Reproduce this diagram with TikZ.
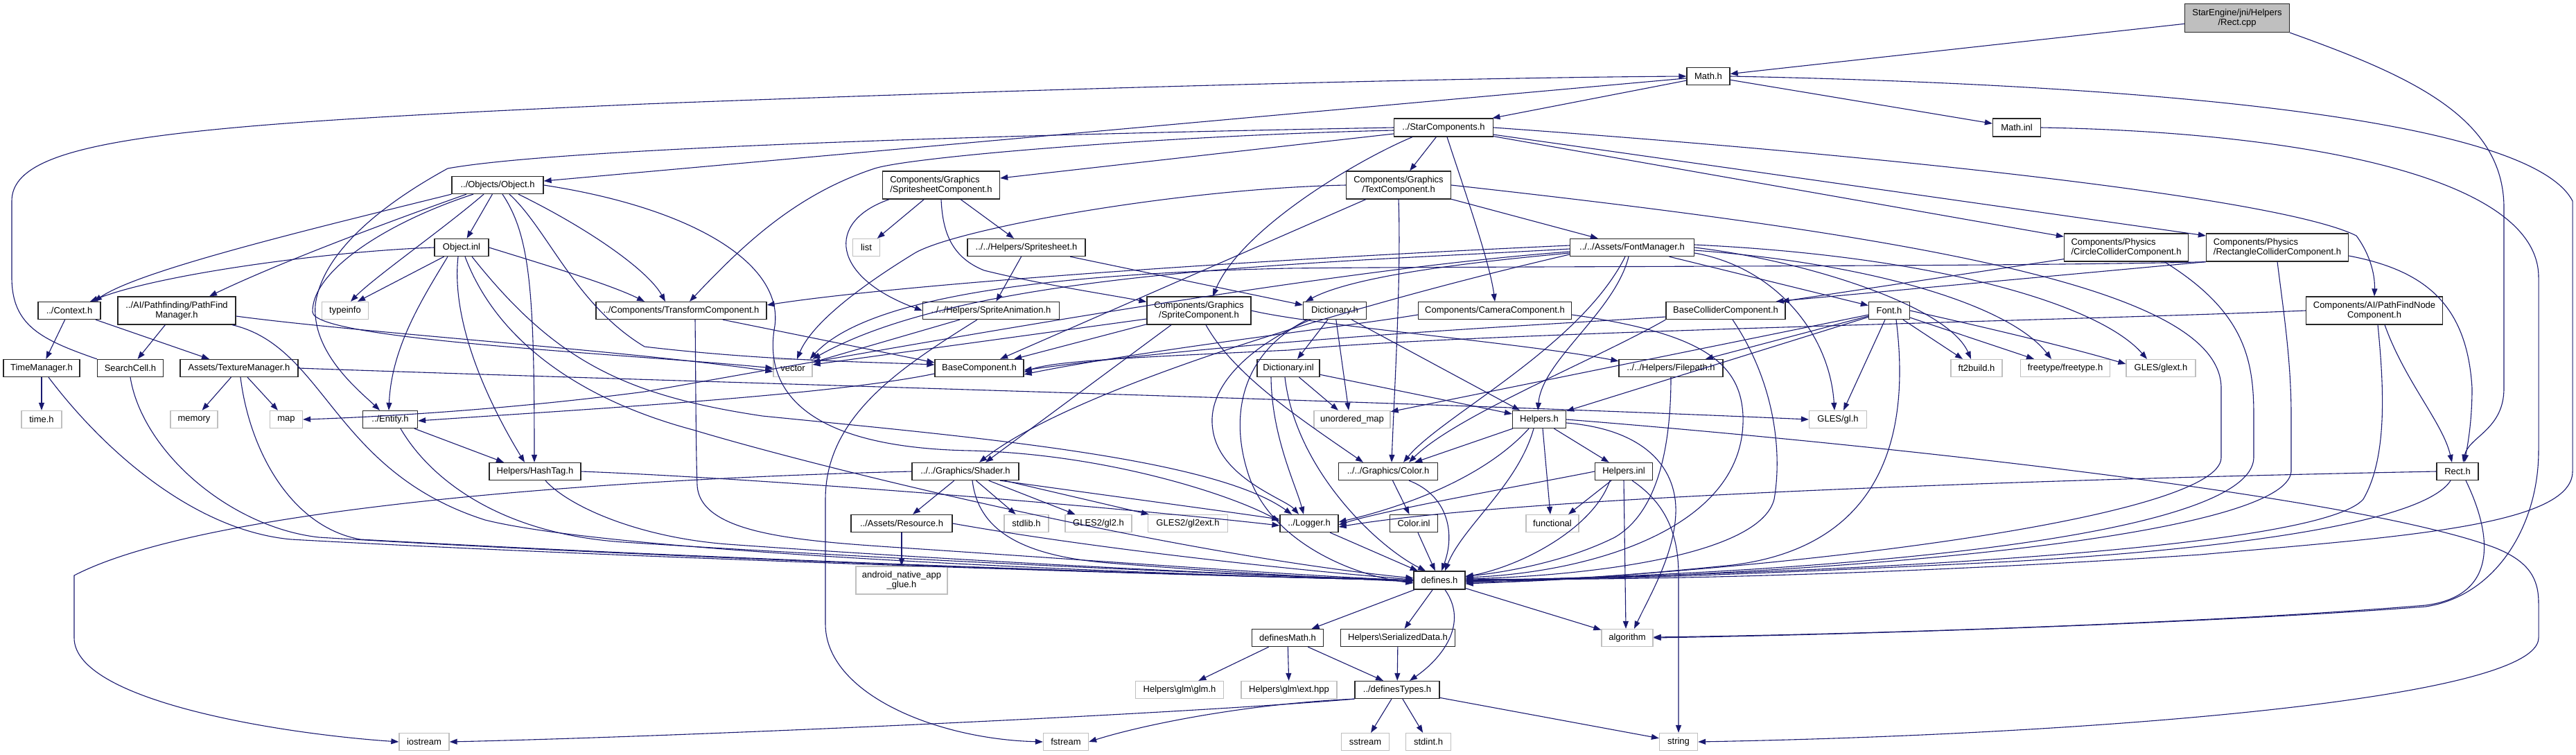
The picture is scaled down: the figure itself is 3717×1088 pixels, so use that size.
\documentclass[tikz,border=0pt]{standalone}
\usepackage{fontspec}
\setmainfont{Liberation Sans}
\usetikzlibrary{arrows.meta}
\definecolor{edgec}{RGB}{25,25,112}
\definecolor{extb}{RGB}{191,191,191}
\definecolor{rootf}{RGB}{191,191,191}
\tikzset{
  box/.style={draw=black!85, fill=white, line width=1.3pt, inner sep=0pt, align=center,
    font=\fontsize{13}{14.5}\selectfont},
  boxl/.style={box, align=left},
  ext/.style={box, draw=extb},
  root/.style={box, fill=rootf},
  edg/.style={draw=edgec, line width=1.1pt, -{Triangle[length=11pt,width=8pt]}}
}
\newcommand{\mkbox}[6]{\node[#1, minimum width=#4pt, minimum height=#5pt] (#2) at (#3) {#6};}
\begin{document}
\begin{tikzpicture}[x=1pt,y=-1pt]
\fill[white] (0,0) rectangle (3717,1088);
\useasboundingbox (0,0) rectangle (3717,1088);
% ---------------- nodes
\mkbox{root}{rcpp}{3228,26}{151}{41}{StarEngine/jni/Helpers\\/Rect.cpp}
\mkbox{box}{mathh}{2465,110}{62}{25}{Math.h}
\mkbox{box}{starc}{2083,184}{143}{26}{../StarComponents.h}
\mkbox{box}{mathinl}{2910,184}{69}{26}{Math.inl}
\mkbox{box}{objh}{718,267}{132}{25}{../Objects/Object.h}
\mkbox{boxl}{sscomp}{1358,267}{169}{40}{Components/Graphics\\/SpritesheetComponent.h}
\mkbox{box}{textc}{2018,267}{151}{40}{Components/Graphics\\/TextComponent.h}
\mkbox{boxl}{circ}{3068,357}{179}{40}{Components/Physics\\/CircleColliderComponent.h}
\mkbox{boxl}{rectc}{3286,357}{205}{40}{Components/Physics\\/RectangleColliderComponent.h}
\mkbox{box}{objinl}{666,357}{78}{25}{Object.inl}
\mkbox{ext}{nlist}{1250,357}{39}{25}{list}
\mkbox{box}{ssheet}{1481,357}{170}{25}{../../Helpers/Spritesheet.h}
\mkbox{box}{fontm}{2355,357}{179}{25}{../../Assets/FontManager.h}
\mkbox{box}{ctx}{100,448}{90}{25}{../Context.h}
\mkbox{box}{pfm}{255,448}{170}{40}{../AI/Pathfinding/PathFind\\Manager.h}
\mkbox{ext}{typeinfo}{498,448}{67}{25}{typeinfo}
\mkbox{box}{transf}{983,448}{246}{25}{../Components/TransformComponent.h}
\mkbox{box}{spranim}{1430,448}{197}{25}{../../Helpers/SpriteAnimation.h}
\mkbox{box}{sprc}{1730,448}{150}{40}{Components/Graphics\\/SpriteComponent.h}
\mkbox{box}{dict}{1926,448}{91}{25}{Dictionary.h}
\mkbox{box}{camc}{2157,448}{221}{25}{Components/CameraComponent.h}
\mkbox{box}{basecol}{2490,448}{172}{25}{BaseColliderComponent.h}
\mkbox{box}{nfont}{2726,448}{59}{25}{Font.h}
\mkbox{box}{pfnode}{3426,448}{197}{40}{Components/AI/PathFindNode\\Component.h}
\mkbox{box}{timem}{60,531}{110}{25}{TimeManager.h}
\mkbox{box}{scell}{188,531}{95}{25}{SearchCell.h}
\mkbox{box}{texm}{345,531}{170}{25}{Assets/TextureManager.h}
\mkbox{ext}{nvector}{1144,531}{56}{25}{vector}
\mkbox{box}{basec}{1413,531}{128}{25}{BaseComponent.h}
\mkbox{box}{dictinl}{1859,531}{90}{25}{Dictionary.inl}
\mkbox{box}{filep}{2411,531}{150}{25}{../../Helpers/Filepath.h}
\mkbox{ext}{ft2}{2852,531}{74}{25}{ft2build.h}
\mkbox{ext}{freet}{2980,531}{129}{25}{freetype/freetype.h}
\mkbox{ext}{glext}{3118,531}{100}{25}{GLES/glext.h}
\mkbox{ext}{timeh}{60,605}{58}{25}{time.h}
\mkbox{ext}{memory}{280,605}{68}{25}{memory}
\mkbox{ext}{nmap}{413,605}{47}{25}{map}
\mkbox{box}{entity}{563,605}{79}{25}{../Entity.h}
\mkbox{ext}{umap}{1951,605}{110}{25}{unordered\_map}
\mkbox{box}{helpers}{2221,605}{77}{25}{Helpers.h}
\mkbox{ext}{gl}{2652,605}{83}{25}{GLES/gl.h}
\mkbox{box}{hashtag}{772,680}{132}{25}{Helpers/HashTag.h}
\mkbox{box}{shader}{1393,680}{154}{25}{../../Graphics/Shader.h}
\mkbox{box}{ncolor}{2003,680}{143}{25}{../../Graphics/Color.h}
\mkbox{box}{helpinl}{2343,680}{83}{25}{Helpers.inl}
\mkbox{box}{recth}{3546,680}{60}{25}{Rect.h}
\mkbox{box}{resource}{1301,755}{146}{25}{../Assets/Resource.h}
\mkbox{ext}{stdlib}{1481,755}{64}{25}{stdlib.h}
\mkbox{ext}{gltwo}{1585,755}{96}{25}{GLES2/gl2.h}
\mkbox{ext}{gltwoext}{1714,755}{115}{25}{GLES2/gl2ext.h}
\mkbox{box}{logger}{1889,755}{84}{25}{../Logger.h}
\mkbox{box}{colorinl}{2040,755}{69}{25}{Color.inl}
\mkbox{ext}{functional}{2240,755}{76}{25}{functional}
\mkbox{ext}{android}{1301,837}{132}{40}{android\_native\_app\\\_glue.h}
\mkbox{box}{defines}{2077,837}{74}{26}{defines.h}
\mkbox{box}{dmath}{1858,920}{103}{25}{definesMath.h}
\mkbox{box}{serial}{2017,920}{165}{25}{Helpers\textbackslash{}SerializedData.h}
\mkbox{ext}{algo}{2348,920}{74}{25}{algorithm}
\mkbox{ext}{glm}{1702,995}{127}{25}{Helpers\textbackslash{}glm\textbackslash{}glm.h}
\mkbox{ext}{glmext}{1860,995}{138}{25}{Helpers\textbackslash{}glm\textbackslash{}ext.hpp}
\mkbox{box}{dtypes}{2016,995}{122}{25}{../definesTypes.h}
\mkbox{ext}{fstream}{1538,1070}{65}{25}{fstream}
\mkbox{ext}{iostream}{612,1070}{72}{25}{iostream}
\mkbox{ext}{sstream}{1970,1070}{69}{25}{sstream}
\mkbox{ext}{stdint}{2061,1070}{65}{25}{stdint.h}
\mkbox{ext}{nstring}{2422,1070}{55}{25}{string}
% ---------------- edges
% Rect.cpp
\draw[edg] (rcpp) -- (mathh);
\draw[edg] (rcpp.south east) .. controls (3480,110) and (3613,170) .. (3613,300) -- (3613,560) .. controls (3613,620) and (3562,630) .. ([xshift=8pt]recth.north);
% Math.h
\draw[edg] (mathh) -- (starc);
\draw[edg] (mathh) -- (mathinl);
\draw[edg] (mathh) -- (objh);
\draw[edg] (mathh.east) .. controls (2900,118) and (3640,150) .. (3712,290) -- (3712,680) .. controls (3712,760) and (3450,775) .. (3175,800) .. controls (2800,825) and (2400,838) .. ([yshift=2pt]defines.east);
\draw[edg] (scell.north west) .. controls (60,490) and (17,470) .. (17,400) -- (17,290) .. controls (17,200) and (250,180) .. (930,150) .. controls (1500,128) and (2100,112) .. (mathh.west);
\draw[edg] (mathinl.east) .. controls (3300,190) and (3663,250) .. (3663,400) -- (3663,650) .. controls (3663,760) and (3600,860) .. (3500,875) .. controls (3200,898) and (2700,915) .. (algo.east);
\draw[edg] (helpers.east) .. controls (2700,640) and (3400,715) .. (3600,790) .. controls (3650,810) and (3663,835) .. (3663,870) -- (3663,920) .. controls (3663,1010) and (3000,1060) .. (nstring.east);
% StarComponents
\draw[edg] (starc.west) .. controls (1400,195) and (800,215) .. (646,243) .. controls (560,290) and (465,360) .. (455,440) .. controls (450,510) and (520,565) .. ([xshift=-15pt]entity.north);
\draw[edg] ([yshift=-4pt]starc.west) .. controls (1700,195) and (1320,225) .. (1262,243) .. controls (1150,280) and (1075,350) .. ([xshift=12pt]transf.north);
\draw[edg] ([yshift=-9pt]starc.west) -- ([yshift=10pt]sscomp.east);
\draw[edg] (starc) -- (textc);
\draw[edg] ([xshift=-45pt]starc.south) .. controls (1960,230) and (1790,330) .. ([xshift=20pt]sprc.north);
\draw[edg] ([xshift=5pt]starc.south) .. controls (2115,280) and (2150,380) .. (camc.north);
\draw[edg] (starc.east) .. controls (2800,230) and (3300,290) .. (3400,340) .. controls (3422,370) and (3427,400) .. (pfnode.north);
\draw[edg] (starc) -- ([yshift=17pt]rectc.west);
\draw[edg] (starc) -- (circ);
% Object.h
\draw[edg] (objh) -- (objinl);
\draw[edg] (objh.south west) .. controls (450,330) and (200,390) .. ([xshift=36pt]ctx.north);
\draw[edg] ([xshift=-45pt]objh.south) .. controls (560,320) and (400,380) .. ([xshift=47pt]pfm.north);
\draw[edg] ([xshift=-20pt]objh.south) .. controls (640,330) and (540,400) .. ([xshift=8pt]typeinfo.north);
\draw[edg] ([xshift=-35pt]objh.south) .. controls (560,320) and (450,390) .. (451,450) .. controls (452,490) and (900,510) .. (nvector.west);
\draw[edg] ([xshift=7pt]objh.south) .. controls (765,340) and (771,420) .. ([xshift=-1pt]hashtag.north);
\draw[edg] ([xshift=17pt]objh.south) .. controls (790,330) and (830,440) .. (930,500) .. controls (1100,520) and (1250,522) .. ([yshift=5pt]basec.west);
\draw[edg] ([xshift=30pt]objh.south) .. controls (850,330) and (935,390) .. ([xshift=-23pt]transf.north);
\draw[edg] (objh.east) .. controls (1000,300) and (1130,380) .. (1118,470) .. controls (1105,540) and (1130,645) .. (1400,650) .. controls (1600,655) and (1780,715) .. ([yshift=3pt]logger.west);
% Object.inl
\draw[edg] (objinl.west) .. controls (480,362) and (230,395) .. ([xshift=30pt]ctx.north);
\draw[edg] (objinl) -- ([xshift=18pt]typeinfo.north);
\draw[edg] ([xshift=-20pt]objinl.south) .. controls (610,430) and (565,500) .. ([xshift=-2pt]entity.north);
\draw[edg] ([xshift=-5pt]objinl.south) .. controls (650,470) and (710,590) .. ([xshift=-15pt]hashtag.north);
\draw[edg] (objinl.east) .. controls (780,380) and (880,410) .. ([xshift=-53pt]transf.north);
\draw[edg] ([xshift=15pt]objinl.south) .. controls (800,520) and (900,570) .. (1100,600) .. controls (1400,630) and (1750,660) .. ([xshift=-25pt]logger.north);
\draw[edg] ([xshift=5pt]objinl.south) .. controls (720,500) and (850,580) .. (1000,620) .. controls (1200,680) and (1700,800) .. ([yshift=3pt]defines.west);
% left cluster
\draw[edg] (pfm) -- (scell);
\draw[edg] ([yshift=-8pt]pfm.east) .. controls (520,480) and (900,505) .. ([yshift=-5pt]nvector.west);
\draw[edg] ([xshift=80pt]pfm.south) .. controls (470,500) and (480,680) .. (700,750) .. controls (900,800) and (1700,830) .. (defines.west);
\draw[edg] (ctx) -- (timem);
\draw[edg] (ctx) -- ([xshift=-43pt]texm.north);
\draw[edg] (timem) -- (timeh);
\draw[edg] ([xshift=10pt]timem.south) .. controls (150,650) and (280,765) .. (420,778) .. controls (900,805) and (1700,830) .. (defines.west);
\draw[edg] (scell.south) .. controls (205,650) and (330,760) .. (460,775) .. controls (950,805) and (1700,830) .. (defines.west);
\draw[edg] (texm) -- (memory);
\draw[edg] (texm) -- (nmap);
\draw[edg] ([xshift=2pt]texm.south) .. controls (360,650) and (420,760) .. (520,778) .. controls (1000,805) and (1700,830) .. (defines.west);
\draw[edg] (texm.east) .. controls (900,548) and (2000,578) .. (gl.west);
\draw[edg] (entity) -- ([xshift=-45pt]hashtag.north);
\draw[edg] ([xshift=15pt]entity.south) .. controls (620,690) and (720,770) .. (900,782) .. controls (1300,808) and (1800,830) .. (defines.west);
\draw[edg] (hashtag.east) .. controls (1100,690) and (1600,730) .. ([yshift=-3pt]logger.west);
\draw[edg] ([xshift=15pt]hashtag.south) .. controls (820,730) and (920,775) .. (1050,785) .. controls (1400,810) and (1800,830) .. (defines.west);
\draw[edg] ([xshift=60pt]transf.south) -- ([yshift=8pt]basec.west);
\draw[edg] ([xshift=20pt]transf.south) .. controls (1004,540) and (1004,650) .. (1006,700) .. controls (1010,770) and (1150,780) .. (1300,790) .. controls (1600,810) and (1900,832) .. (defines.west);
\draw[edg] ([yshift=-8pt]basec.west) .. controls (1200,570) and (850,590) .. ([yshift=-2pt]entity.east);
% FontManager
\draw[edg] ([yshift=-6pt]fontm.west) .. controls (1900,390) and (1300,500) .. (930,565) .. controls (700,595) and (500,603) .. (nmap.east);
\draw[edg] ([yshift=3pt]fontm.west) .. controls (1800,375) and (1300,410) .. ([yshift=8pt]transf.east);
\draw[edg] ([yshift=-2pt]fontm.west) .. controls (1900,380) and (1400,390) .. (nvector.north east);
\draw[edg] ([yshift=-8pt]fontm.west) .. controls (2100,380) and (1950,400) .. ([xshift=4pt]dict.north west);
\draw[edg] ([yshift=-10pt]fontm.west) .. controls (1950,440) and (1550,560) .. ([xshift=20pt]shader.north);
\draw[edg] (fontm) -- (nfont);
\draw[edg] (fontm.east) .. controls (2600,375) and (2810,440) .. ([xshift=-8pt]ft2.north);
\draw[edg] ([yshift=-4pt]fontm.east) .. controls (2700,380) and (2900,440) .. ([xshift=-20pt]freet.north);
\draw[edg] ([yshift=4pt]fontm.east) .. controls (2800,370) and (3030,440) .. ([xshift=-20pt]glext.north);
\draw[edg] ([yshift=-8pt]fontm.east) .. controls (2560,385) and (2640,480) .. ([xshift=-5pt]gl.north);
\draw[edg] ([xshift=-5pt]fontm.south) .. controls (2330,450) and (2225,520) .. ([xshift=-2pt]helpers.north);
\draw[edg] ([xshift=-10pt]fontm.south) .. controls (2280,500) and (2080,600) .. ([xshift=22pt]ncolor.north);
% Font.h
\draw[edg] (nfont) -- (ft2);
\draw[edg] (nfont) -- ([xshift=-45pt]freet.north);
\draw[edg] (nfont.east) .. controls (2900,480) and (3000,505) .. ([yshift=6pt]glext.west);
\draw[edg] (nfont) -- ([xshift=8pt]gl.north);
\draw[edg] (nfont) -- (filep);
\draw[edg] (nfont) -- (helpers);
\draw[edg] (nfont) -- (umap);
\draw[edg] ([xshift=10pt]nfont.south) .. controls (2760,650) and (2700,790) .. (2500,815) .. controls (2300,835) and (2200,840) .. ([yshift=-3pt]defines.east);
% colliders / camera / path node
\draw[edg] ([yshift=-9pt]basecol.west) .. controls (2200,470) and (1800,490) .. ([yshift=-3pt]basec.east);
\draw[edg] (basecol.south west) .. controls (2300,520) and (2100,600) .. ([xshift=30pt]ncolor.north);
\draw[edg] ([xshift=10pt]basecol.south) .. controls (2560,550) and (2572,650) .. (2560,720) .. controls (2540,800) and (2300,830) .. ([yshift=2pt]defines.east);
\draw[edg] ([yshift=-6pt]camc.west) .. controls (1950,470) and (1650,505) .. ([yshift=-9pt]basec.east);
\draw[edg] ([yshift=-6pt]camc.east) .. controls (2450,480) and (2512,520) .. (2515,600) .. controls (2520,760) and (2300,825) .. ([yshift=4pt]defines.east);
\draw[edg] ([yshift=4pt]circ.south west) -- ([xshift=-6pt]basecol.north east);
\draw[edg] ([xshift=55pt]circ.south) .. controls (3240,450) and (3252,520) .. (3252,600) -- (3252,660) .. controls (3250,770) and (2700,825) .. ([yshift=-1pt]defines.east);
\draw[edg] (rectc.south west) -- ([xshift=-14pt]basecol.north east);
\draw[edg] (rectc.south west) .. controls (2900,385) and (2100,384) .. (1860,387) .. controls (1500,395) and (1250,430) .. ([xshift=-4pt]nvector.north east);
\draw[edg] ([yshift=-12pt]rectc.east) .. controls (3500,390) and (3560,440) .. (3567,560) .. controls (3567,610) and (3560,645) .. ([xshift=10pt]recth.north);
\draw[edg] (rectc.south) .. controls (3295,450) and (3306,520) .. (3306,600) -- (3306,680) .. controls (3300,770) and (2700,828) .. ([yshift=-2pt]defines.east);
\draw[edg] ([xshift=15pt]pfnode.south) .. controls (3470,550) and (3525,610) .. ([xshift=-8pt]recth.north);
\draw[edg] (pfnode.west) .. controls (3000,462) and (2100,480) .. (1860,505) .. controls (1650,515) and (1520,520) .. ([yshift=-6pt]basec.east);
\draw[edg] ([xshift=5pt]pfnode.south) .. controls (3440,560) and (3445,660) .. (3410,720) .. controls (3350,790) and (2700,826) .. (defines.east);
% Rect.h
\draw[edg] (recth.west) .. controls (3000,690) and (2200,715) .. ([yshift=-5pt]logger.east);
\draw[edg] ([xshift=-10pt]recth.south) .. controls (3500,750) and (3250,790) .. (2900,810) .. controls (2500,830) and (2300,836) .. (defines.east);
\draw[edg] ([xshift=12pt]recth.south) .. controls (3600,780) and (3600,860) .. (3500,873) .. controls (3200,898) and (2700,915) .. ([yshift=1pt]algo.east);
% Dictionary
\draw[edg] (dict) -- ([xshift=13pt]dictinl.north);
\draw[edg] (dict) -- ([xshift=-5pt]umap.north);
\draw[edg] (dict) -- ([xshift=-28pt]helpers.north);
\draw[edg] ([xshift=-35pt]dict.south) .. controls (1800,500) and (1740,560) .. (1750,620) .. controls (1760,690) and (1855,720) .. ([xshift=-15pt]logger.north);
\draw[edg] ([xshift=-40pt]dict.south) .. controls (1790,510) and (1775,600) .. (1800,680) .. controls (1830,780) and (1950,830) .. ([yshift=-4pt]defines.west);
\draw[edg] (dictinl) -- ([xshift=-20pt]umap.north);
\draw[edg] (dictinl) -- ([yshift=8pt]helpers.west);
\draw[edg] ([xshift=-25pt]dictinl.south) .. controls (1835,630) and (1870,700) .. ([xshift=-8pt]logger.north);
\draw[edg] ([xshift=-5pt]dictinl.south) .. controls (1870,680) and (1990,790) .. ([xshift=-20pt]defines.north);
\draw[edg] (filep.south) .. controls (2411,650) and (2390,740) .. (2330,775) .. controls (2250,815) and (2150,828) .. ([yshift=6pt]defines.east);
% Helpers
\draw[edg] (helpers) -- (ncolor);
\draw[edg] (helpers) -- (helpinl);
\draw[edg] ([xshift=-15pt]helpers.south) .. controls (2150,680) and (2050,725) .. ([yshift=2pt]logger.east);
\draw[edg] ([xshift=-8pt]helpers.south) .. controls (2190,700) and (2110,760) .. ([xshift=8pt]defines.north);
\draw[edg] ([xshift=5pt]helpers.south) -- ([xshift=-3pt]functional.north);
\draw[edg] ([yshift=-5pt]helpers.east) .. controls (2380,620) and (2420,680) .. (2418,740) .. controls (2416,800) and (2380,860) .. ([xshift=10pt]algo.north);
\draw[edg] (helpinl.west) .. controls (2200,700) and (2000,735) .. ([yshift=-2pt]logger.east);
\draw[edg] ([xshift=-20pt]helpinl.south) .. controls (2300,760) and (2200,815) .. ([yshift=5pt]defines.east);
\draw[edg] ([xshift=-18pt]helpinl.south) -- ([xshift=23pt]functional.north);
\draw[edg] (helpinl.south) -- ([xshift=-2pt]algo.north);
\draw[edg] ([xshift=12pt]helpinl.south) .. controls (2410,730) and (2422,780) .. (2422,830) -- (nstring.north);
\draw[edg] (ncolor) -- (colorinl);
\draw[edg] ([xshift=30pt]ncolor.south) .. controls (2090,715) and (2100,770) .. ([xshift=3pt]defines.north);
\draw[edg] (colorinl) -- (defines);
% Shader & graphics
\draw[edg] (shader) -- (resource);
\draw[edg] (shader) -- (stdlib);
\draw[edg] (shader) -- (gltwo);
\draw[edg] (shader) -- (gltwoext);
\draw[edg] ([xshift=50pt]shader.south) .. controls (1600,715) and (1750,735) .. ([yshift=6pt]logger.west);
\draw[edg] ([xshift=10pt]shader.south) .. controls (1410,750) and (1450,800) .. (1600,812) .. controls (1800,828) and (1950,835) .. ([yshift=-2pt]defines.west);
\draw[edg] (shader.west) .. controls (900,690) and (300,730) .. (107,830) -- (107,920) .. controls (107,1010) and (400,1058) .. (iostream.west);
\draw[edg] (resource) -- (android);
\draw[edg] (resource.east) .. controls (1600,795) and (1900,825) .. ([yshift=1pt]defines.west);
\draw[edg] (logger) -- (defines);
\draw[edg] (spranim) -- (nvector);
\draw[edg] ([xshift=-20pt]spranim.south) .. controls (1300,530) and (1191,600) .. (1191,720) -- (1191,900) .. controls (1191,1000) and (1350,1066) .. (fstream.west);
\draw[edg] (sprc) -- (basec);
\draw[edg] ([yshift=-12pt]sprc.west) -- ([yshift=5pt]nvector.east);
\draw[edg] ([xshift=-40pt]sprc.south) -- ([xshift=29pt]shader.north);
\draw[edg] ([xshift=10pt]sprc.south) .. controls (1780,540) and (1870,600) .. ([xshift=-36pt]ncolor.north);
\draw[edg] (sprc.east) .. controls (1900,470) and (2200,495) .. ([yshift=-3pt]filep.north west);
\draw[edg] (textc) -- (basec);
\draw[edg] (textc.west) .. controls (1700,272) and (1380,330) .. (1320,365) .. controls (1230,420) and (1170,470) .. ([xshift=6pt]nvector.north);
\draw[edg] (textc) -- (fontm);
\draw[edg] (textc.south) .. controls (2022,400) and (2012,560) .. ([xshift=5pt]ncolor.north);
\draw[edg] (textc.east) .. controls (2800,345) and (3205,420) .. (3205,560) -- (3205,660) .. controls (3205,745) and (2600,822) .. ([yshift=-5pt]defines.east);
\draw[edg] (sscomp) -- (nlist);
\draw[edg] (sscomp) -- (ssheet);
\draw[edg] ([xshift=-75pt]sscomp.south) .. controls (1190,320) and (1200,400) .. (spranim.west);
\draw[edg] (sscomp.south) .. controls (1360,330) and (1370,370) .. (1420,390) .. controls (1500,410) and (1600,425) .. ([yshift=-8pt]sprc.north west);
\draw[edg] (ssheet) -- (spranim);
\draw[edg] (ssheet) -- ([yshift=8pt]dict.west);
% bottom
\draw[edg] (defines) -- (dmath);
\draw[edg] (defines) -- (serial);
\draw[edg] ([xshift=8pt]defines.south) .. controls (2120,900) and (2080,950) .. ([xshift=18pt]dtypes.north);
\draw[edg] (defines) -- (algo);
\draw[edg] (dmath) -- (glm);
\draw[edg] (dmath) -- (glmext);
\draw[edg] (dmath) -- ([xshift=-20pt]dtypes.north);
\draw[edg] (serial) -- (dtypes);
\draw[edg] (dtypes) -- (sstream);
\draw[edg] (dtypes) -- (stdint);
\draw[edg] (dtypes) -- (nstring);
\draw[edg] (dtypes.south west) .. controls (1800,1015) and (1650,1045) .. (fstream.east);
\draw[edg] (dtypes.south west) .. controls (1700,1030) and (1000,1062) .. (iostream.east);
\end{tikzpicture}
\end{document}
